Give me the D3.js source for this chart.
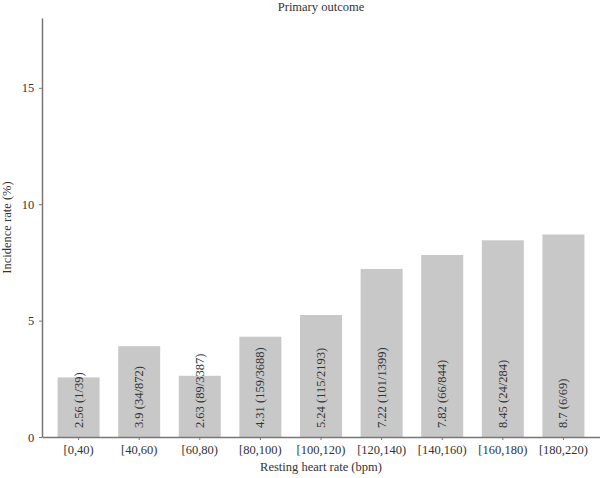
<!DOCTYPE html>
<html>
<head>
<meta charset="utf-8">
<script src="https://cdn.jsdelivr.net/npm/d3@7"></script>
<style>
  body { margin: 0; background: #fff; }
  svg text { font-family: "Liberation Serif", "DejaVu Serif", serif; fill: #333; }
</style>
</head>
<body>
<svg id="chart" width="600" height="478"></svg>
<script>
// heart rate bins and incidence (events/total)
const categories = ["[0,40)", "[40,60)", "[60,80)", "[80,100)", "[100,120)", "[120,140)", "[140,160)", "[160,180)", "[180,220)"];
const rates = [2.56, 3.9, 2.63, 4.31, 5.24, 7.22, 7.82, 8.45, 8.7];
const counts = ["1/39", "34/872", "89/3387", "159/3688", "115/2193", "101/1399", "66/844", "24/284", "6/69"];
const yTicks = [0, 5, 10, 15];

const margin = {top: 18, right: 0, bottom: 41, left: 42};
const width = 600, height = 478;

const svg = d3.select('#chart');

const x = d3.scaleBand()
    .domain(categories)
    .range([margin.left, width - margin.right])
    .paddingInner(0.307)
    .paddingOuter(0.257);

const y = d3.scaleLinear()
    .domain([0, 18])
    .range([height - margin.bottom, margin.top]);

// bars
svg.selectAll('rect.bar')
    .data(categories)
    .enter()
    .append('rect')
    .attr('class', 'bar')
    .attr('x', d => x(d))
    .attr('width', x.bandwidth())
    .attr('y', (d, i) => y(rates[i]))
    .attr('height', (d, i) => y(0) - y(rates[i]))
    .attr('fill', '#c8c8c8');

// rotated labels inside bars
svg.selectAll('text.barlab')
    .data(categories)
    .enter()
    .append('text')
    .attr('class', 'barlab')
    .attr('transform', d => `translate(${x(d) + x.bandwidth() / 2 + 4}, ${y(0) - 9}) rotate(-90)`)
    .attr('font-size', 12.5)
    .text((d, i) => `${rates[i]} (${counts[i]})`);

// x axis
const xAxis = svg.append('g')
    .attr('transform', `translate(0, ${y(0)})`)
    .call(d3.axisBottom(x).tickSize(3).tickSizeOuter(0));
xAxis.select('.domain').attr('stroke', '#777').attr('stroke-width', 1.5);
xAxis.selectAll('.tick line').attr('stroke', '#777');
xAxis.selectAll('.tick text').attr('font-size', 12.5).attr('dy', '0.85em').attr('fill', '#333');

// y axis
const yAxis = svg.append('g')
    .attr('transform', `translate(${margin.left}, 0)`)
    .call(d3.axisLeft(y).tickValues(yTicks).tickSize(3).tickSizeOuter(0));
yAxis.select('.domain').attr('stroke', '#777').attr('stroke-width', 1.5);
yAxis.selectAll('.tick line').attr('stroke', '#777');
yAxis.selectAll('.tick text').attr('font-size', 12.5).attr('dx', '-0.15em').attr('fill', '#333');

// title
svg.append('text')
    .attr('x', (margin.left + width) / 2)
    .attr('y', 11)
    .attr('text-anchor', 'middle')
    .attr('font-size', 12.5)
    .text('Primary outcome');

// axis titles
svg.append('text')
    .attr('x', (margin.left + width) / 2)
    .attr('y', 471)
    .attr('text-anchor', 'middle')
    .attr('font-size', 12.5)
    .text('Resting heart rate (bpm)');

svg.append('text')
    .attr('transform', `translate(11, ${(margin.top + y(0)) / 2}) rotate(-90)`)
    .attr('text-anchor', 'middle')
    .attr('font-size', 12.5)
    .text('Incidence rate (%)');
</script>
</body>
</html>
